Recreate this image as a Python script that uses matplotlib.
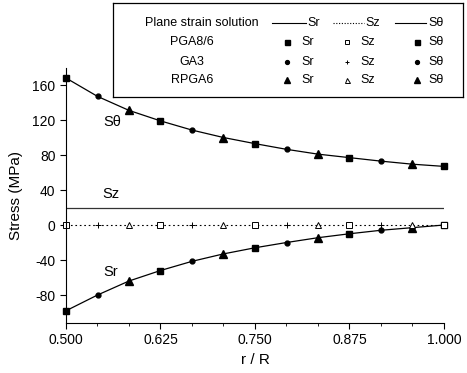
import matplotlib
matplotlib.use('Agg')
import matplotlib.pyplot as plt
from matplotlib.ticker import MultipleLocator

plt.rcParams['font.family'] = ['Liberation Sans', 'DejaVu Sans']
plt.rcParams['font.size'] = 9
plt.rcParams['axes.unicode_minus'] = False

# r/R sample positions (13 points, step 1/24)
r = [0.5, 0.5417, 0.5833, 0.625, 0.6667, 0.7083, 0.75,
     0.7917, 0.8333, 0.875, 0.9167, 0.9583, 1.0]
# plane strain solution
sr = [-98, -80, -64, -52, -41.5, -33, -26, -20, -14.5, -10, -6, -3, 0]
st = [168, 147, 131, 119, 108.5, 100, 93, 86.5, 81, 77, 73, 69.5, 67]
sz = [20, 20, 20, 20, 20, 20, 20, 20, 20, 20, 20, 20, 20]
# numerical Sz
sz_num = [0, 0, 0, 0, 0, 0, 0, 0, 0, 0, 0, 0, 0]

# which method gives which point
methods = ['PGA8/6', 'GA3', 'RPGA6']
method_idx = [[0, 3, 6, 9, 12], [1, 4, 7, 10], [2, 5, 8, 11]]
filled = {'PGA8/6': ('s', 4.5), 'GA3': ('o', 3.5), 'RPGA6': ('^', 5.5)}
hollow = {'PGA8/6': ('s', 4), 'GA3': ('+', 4), 'RPGA6': ('^', 4.5)}

fig = plt.figure(figsize=(4.67, 3.73), dpi=100)
ax = fig.add_axes([0.1413, 0.134, 0.8094, 0.685])

ax.plot(r, sr, color='black', lw=0.9)
ax.plot(r, st, color='black', lw=0.9)
ax.plot(r, sz, color='#333333', lw=0.9)
ax.plot(r, sz_num, color='black', lw=0.8, ls=(0, (1.5, 2.5)))

for m, idx in zip(methods, method_idx):
    mk, ms = filled[m]
    ax.plot([r[i] for i in idx], [sr[i] for i in idx], ls='none', marker=mk,
            ms=ms, color='black', clip_on=False)
    ax.plot([r[i] for i in idx], [st[i] for i in idx], ls='none', marker=mk,
            ms=ms, color='black', clip_on=False)
    mk, ms = hollow[m]
    ax.plot([r[i] for i in idx], [sz_num[i] for i in idx], ls='none', marker=mk,
            ms=ms, mfc='white', mec='black', mew=0.7, clip_on=False)

ax.text(0.561, 118, 'Sθ', fontsize=10.5, ha='center', va='center')
ax.text(0.559, 35, 'Sz', fontsize=10.5, ha='center', va='center')
ax.text(0.559, -54, 'Sr', fontsize=10.5, ha='center', va='center')

ax.set_xlim(0.5, 1.0)
ax.set_ylim(-112, 180)
ax.set_xticks([0.5, 0.625, 0.75, 0.875, 1.0])
ax.set_xticklabels(['0.500', '0.625', '0.750', '0.875', '1.000'])
ax.xaxis.set_minor_locator(MultipleLocator(1 / 24))
ax.set_yticks([-80, -40, 0, 40, 80, 120, 160])
ax.tick_params(which='major', direction='out', length=4, width=0.8, labelsize=10)
ax.tick_params(which='minor', direction='out', length=2, width=0.6)
ax.spines['top'].set_visible(False)
ax.spines['right'].set_visible(False)
ax.set_xlabel('r / R', fontsize=11)
ax.set_ylabel('Stress (MPa)', fontsize=11, labelpad=7)

# legend table box
W, H = 467, 373
lg = fig.add_axes([113 / W, (H - 97) / H, 350 / W, 94 / H])
lg.set_xlim(113, 463)
lg.set_ylim(97, 3)
lg.set_xticks([])
lg.set_yticks([])
lg.set_facecolor('white')
for s in lg.spines.values():
    s.set_linewidth(0.9)

y1 = 23
lg.text(259, y1, 'Plane strain solution', ha='right', va='center')
lg.plot([272, 306], [y1, y1], color='black', lw=0.8)
lg.text(307, y1, 'Sr', va='center')
lg.plot([333, 364], [y1, y1], color='black', lw=0.8, ls=(0, (1, 1.5)))
lg.text(365, y1, 'Sz', va='center')
lg.plot([395, 426], [y1, y1], color='black', lw=0.8)
lg.text(428, y1, 'Sθ', va='center')

for m, yy in zip(methods, [42, 62, 80]):
    lg.text(192, yy, m, ha='center', va='center')
    mk, ms = filled[m]
    lg.plot([287], [yy], marker=mk, ms=ms * 0.8, color='black')
    lg.text(301, yy, 'Sr', va='center')
    mk, ms = hollow[m]
    lg.plot([347], [yy], marker=mk, ms=ms * 0.8, mfc='white', mec='black', mew=0.7)
    lg.text(360, yy, 'Sz', va='center')
    mk, ms = filled[m]
    lg.plot([417], [yy], marker=mk, ms=ms * 0.8, color='black')
    lg.text(428, yy, 'Sθ', va='center')

fig.savefig('out.png', dpi=100)
